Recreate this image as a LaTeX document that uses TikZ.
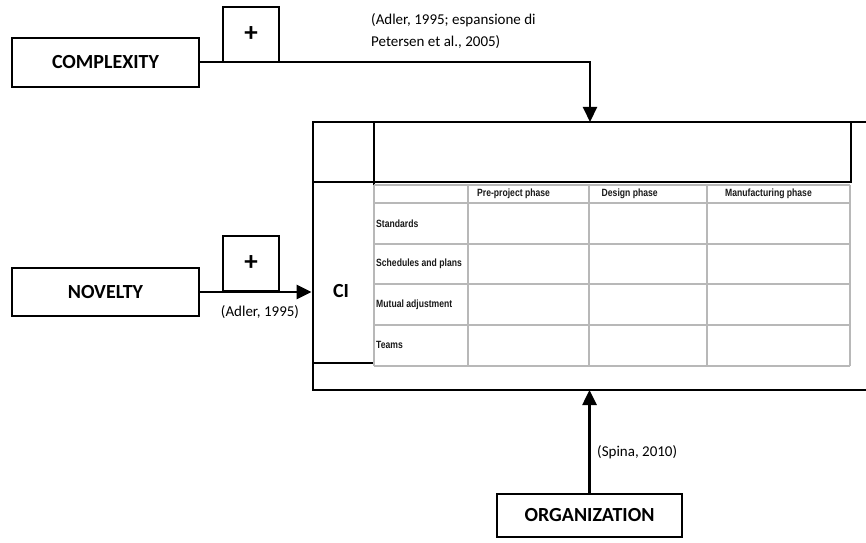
\documentclass[tikz,border=0pt]{standalone}
\usepackage{fontspec}
\setmainfont{Carlito}
\newfontfamily\tabfont[FakeStretch=0.82]{Liberation Sans}
\usetikzlibrary{arrows.meta}

\begin{document}
\begin{tikzpicture}[x=1pt,y=1pt,
  box/.style={draw, line width=2pt, inner sep=0pt},
  factor/.style={box, font=\fontsize{20}{24}\selectfont\bfseries},
  plusbox/.style={box, minimum width=56pt, minimum height=55pt,
    font=\fontsize{27}{28}\selectfont\bfseries},
  cite/.style={font=\fontsize{15}{22}\selectfont, inner sep=0pt, align=left},
  link/.style={line width=2.6pt, -{Triangle[length=15pt,width=14pt]}},
  thinlink/.style={line width=2pt, -{Triangle[length=15pt,width=14pt]}},
  gridline/.style={draw=black!28, line width=1.1pt},
  tab/.style={font=\tabfont\bfseries\fontsize{10.5}{12}\selectfont,
    inner sep=0pt, anchor=west, text=black!90}
]
\useasboundingbox (0,0) rectangle (866,542);

% --- input factors ---
\node[factor, minimum width=187pt, minimum height=49pt] (cplx) at (105.5,479.5) {COMPLEXITY};
\node[factor, minimum width=187pt, minimum height=48pt] (nov) at (105.5,250) {NOVELTY};
\node[factor, minimum width=185pt, minimum height=43pt] (org) at (589.5,26.5) {ORGANIZATION};
\node[plusbox] (p1) at (251,507.5) {+};
\node[plusbox] (p2) at (251,278.5) {+};

% --- integration frame ---
\coordinate (frNE) at (866,420);
\coordinate (frNW) at (312.5,420);
\coordinate (frSW) at (312.5,152);
\coordinate (frSE) at (866,152);
\draw[line width=2pt] (frNE) -- (frNW) -- (frSW) -- (frSE);
\node[box, minimum width=477pt, minimum height=60pt] (head) at (612.5,390) {};
\node[box, minimum width=61pt, minimum height=181pt] (ci) at (343,269.5) {};
\node[font=\fontsize{20}{24}\selectfont\bfseries, inner sep=0pt] (cilabel) at (341,251) {CI};

% --- coordination table ---
\foreach \xx in {374,468,589,707,850}
  \draw[gridline] (\xx,357) -- (\xx,176);
\foreach \yy in {357,339,298,258,217,176}
  \draw[gridline] (374,\yy) -- (850,\yy);
\node[tab] (h1) at (477,348) {Pre-project phase};
\node[tab] (h2) at (601.5,348) {Design phase};
\node[tab] (h3) at (725,348) {Manufacturing phase};
\node[tab] (r1) at (376,318) {Standards};
\node[tab] (r2) at (376,278) {Schedules and plans};
\node[tab] (r3) at (376,237.5) {Mutual adjustment};
\node[tab] (r4) at (376,197) {Teams};

% --- connectors ---
\coordinate (intop) at (590,420);
\coordinate (inbot) at (589.5,152);
\draw[thinlink] (cplx.east) -| (intop);
\draw[link] (nov.east) -- (nov.east -| ci.west);
\draw[link] (org.north) -- (inbot);

% --- sources ---
\node[cite, anchor=north west] (c1) at (371,528.5) {(Adler, 1995; espansione di\\Petersen et al., 2005)};
\node[cite] (c2) at (260,230) {(Adler, 1995)};
\node[cite, anchor=west] (c3) at (597,90) {(Spina, 2010)};
\end{tikzpicture}
\end{document}
